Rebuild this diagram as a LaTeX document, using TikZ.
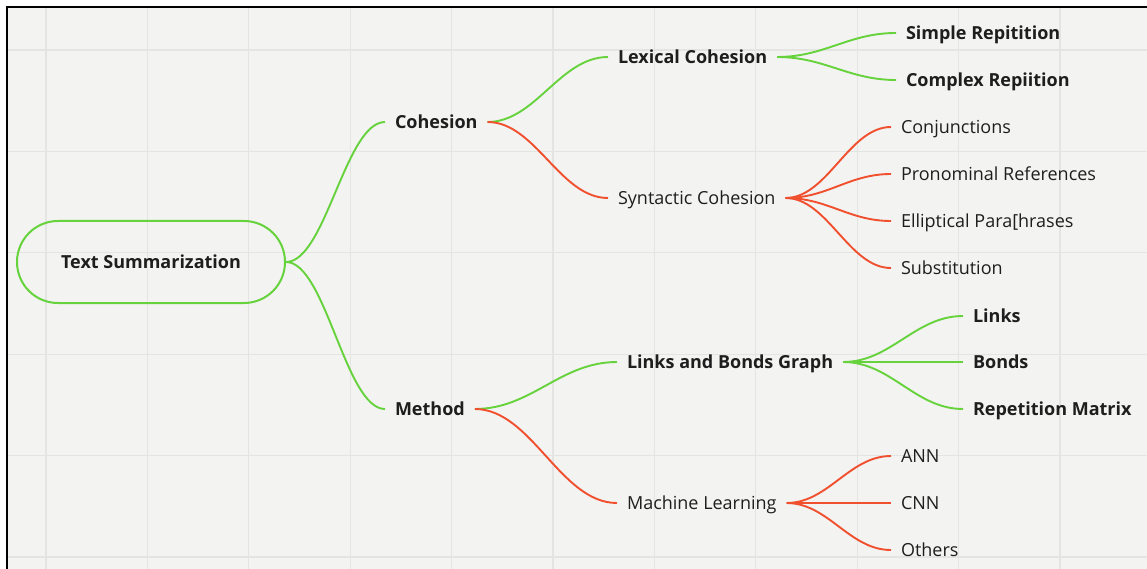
\documentclass[tikz,border=0pt]{standalone}
\usepackage{fontspec}
\setmainfont{Open Sans}
\usetikzlibrary{calc}
\definecolor{canvas}{HTML}{F3F3F2}
\definecolor{gridline}{HTML}{E4E4E3}
\definecolor{mmgreen}{HTML}{66D23C}
\definecolor{mmred}{HTML}{F1502F}
\definecolor{ink}{HTML}{1E1E1E}
% S-shaped branch from the east side of one node to the west side of another
\newcommand\branch[3]{%
  \draw[#3] let \p1=(#1.east), \p2=(#2.west) in
    (\p1) .. controls ({\x1+0.4*(\x2-\x1)},\y1) and ({\x1+0.6*(\x2-\x1)},\y2) .. (\p2);}
\begin{document}
\begin{tikzpicture}[x=1pt,y=-1pt,
  label/.style={anchor=west, inner xsep=10pt, inner ysep=0pt, outer sep=0pt,
    text height=12.5pt, text depth=0pt, text=ink,
    font=\fontsize{18}{21}\selectfont},
  strong/.style={label, font=\fontsize{18}{21}\selectfont\bfseries},
  gbranch/.style={mmgreen, line width=1.9pt},
  rbranch/.style={mmred, line width=1.9pt}]
\useasboundingbox (0,0) rectangle (1147,569);
\fill[white] (0,0) rectangle (1147,569);
\fill[canvas] (7,7) rectangle (1147,569);
% background grid
\foreach \k in {0,...,10}
  \draw[gridline, line width=1.3pt] ({46+101.4*\k},8) -- ({46+101.4*\k},569);
\foreach \k in {0,...,5}
  \draw[gridline, line width=1.3pt] (8,{50+101.4*\k}) -- (1147,{50+101.4*\k});
\draw[black, line width=2pt] (7,569) -- (7,7) -- (1147,7);

% root
\node[draw=mmgreen, line width=2pt, rounded corners=41pt,
  minimum width=268pt, minimum height=82pt, inner sep=0pt,
  text height=12.5pt, text depth=0pt, text=ink,
  font=\fontsize{18}{21}\selectfont\bfseries] (root) at (151,262) {Text Summarization};

% first level
\node[strong] (coh) at (385,122) {Cohesion};
\node[strong] (meth) at (385,409) {Method};

% second level
\node[strong] (lex) at (608,57) {Lexical Cohesion};
\node[label] (syn) at (608,198) {Syntactic Cohesion};
\node[strong] (lbg) at (617,362) {Links and Bonds Graph};
\node[label] (ml) at (617,503) {Machine Learning};

% leaves
\node[strong] (simp) at (896,33) {Simple Repitition};
\node[strong] (comp) at (896,80) {Complex Repiition};
\node[label] (conj) at (891,127) {Conjunctions};
\node[label] (pron) at (891,174) {Pronominal References};
\node[label] (ellip) at (891,221) {Elliptical Para[hrases};
\node[label] (subst) at (891,268) {Substitution};
\node[strong] (links) at (963,316) {Links};
\node[strong] (bonds) at (963,362) {Bonds};
\node[strong] (rep) at (963,409) {Repetition Matrix};
\node[label] (ann) at (891,456) {ANN};
\node[label] (cnn) at (891,503) {CNN};
\node[label] (oth) at (891,550) {Others};

% branches
\branch{root}{coh}{gbranch}
\branch{root}{meth}{gbranch}
\branch{coh}{lex}{gbranch}
\branch{coh}{syn}{rbranch}
\branch{lex}{simp}{gbranch}
\branch{lex}{comp}{gbranch}
\branch{syn}{conj}{rbranch}
\branch{syn}{pron}{rbranch}
\branch{syn}{ellip}{rbranch}
\branch{syn}{subst}{rbranch}
\branch{meth}{lbg}{gbranch}
\branch{meth}{ml}{rbranch}
\branch{lbg}{links}{gbranch}
\branch{lbg}{bonds}{gbranch}
\branch{lbg}{rep}{gbranch}
\branch{ml}{ann}{rbranch}
\branch{ml}{cnn}{rbranch}
\branch{ml}{oth}{rbranch}
\end{tikzpicture}
\end{document}
